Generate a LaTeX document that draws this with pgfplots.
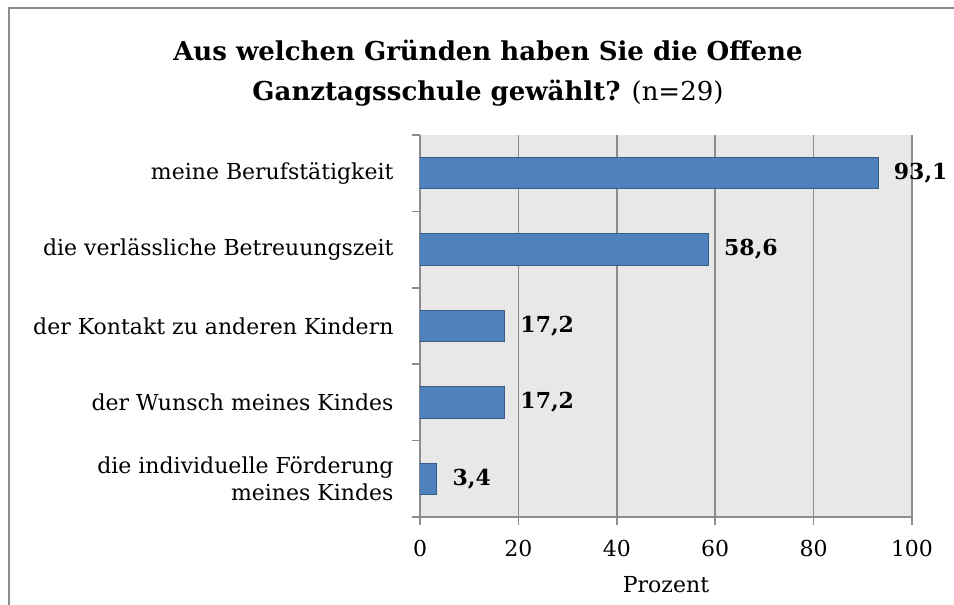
\documentclass[border=0pt]{standalone}
\usepackage{pgfplots}
\pgfplotsset{compat=1.18}
\usepackage{fontspec}
\setmainfont{DejaVu Serif}
\definecolor{barfill}{HTML}{4F81BD}
\definecolor{baredge}{HTML}{385D8A}
\definecolor{bg}{HTML}{E8E8E8}
\definecolor{gridc}{HTML}{8C8C8C}
\begin{document}
\begin{tikzpicture}
\useasboundingbox (0pt,0pt) rectangle (954pt,605pt);
\draw[line width=2pt, color=gridc] (9pt,0pt) -- (9pt,597pt) -- (954pt,597pt);
\node[font=\fontsize{26}{32}\selectfont\bfseries] at (488pt,555pt) {Aus welchen Gründen haben Sie die Offene};
\node[font=\fontsize{26}{32}\selectfont] at (488pt,512pt) {\textbf{Ganztagsschule gewählt?} (n=29)};
\begin{axis}[
  at={(420pt,88pt)}, anchor=south west,
  scale only axis, width=492pt, height=382pt,
  xmin=0, xmax=100, ymin=-0.5, ymax=4.5,
  xbar, bar width=31.3pt,
  axis background/.style={fill=bg},
  axis x line*=bottom, axis y line*=left,
  axis line style={-, color=gridc, line width=1.5pt},
  xtick={0,20,...,100},
  xmajorticks=true,
  xmajorgrids, major grid style={color=gridc, line width=1.5pt},
  tick align=outside, xtick align=outside, ytick align=outside,
  major tick length=8pt,
  tick style={color=gridc, line width=1.5pt},
  xtick style={draw=gridc, line width=1.5pt},
  ytick={-0.5,0.5,1.5,2.5,3.5,4.5},
  yticklabels={},
  extra y ticks={0,1,2,3,4},
  extra y tick labels={{die individuelle Förderung\\meines Kindes},{der Wunsch meines Kindes},{der Kontakt zu anderen Kindern},{die verlässliche Betreuungszeit},{meine Berufstätigkeit}},
  extra y tick style={major tick length=0pt, tick style={draw=none},
    yticklabel style={align=right, xshift=-23pt}},
  xticklabel style={yshift=-12pt},
  /pgf/number format/assume math mode=true,
  tick label style={font=\fontsize{22}{27}\selectfont, color=black},
  xlabel={Prozent},
  xlabel style={font=\fontsize{22}{27}\selectfont, yshift=-12pt},
  nodes near coords,
  nodes near coords style={font=\fontsize{22}{27}\selectfont\bfseries, xshift=12pt,
    /pgf/number format/.cd, fixed, fixed zerofill, precision=1, use comma},
]
\addplot[fill=barfill, draw=baredge, line width=1pt] coordinates {(3.4,0) (17.2,1) (17.2,2) (58.6,3) (93.1,4)};
\end{axis}
\end{tikzpicture}
\end{document}
